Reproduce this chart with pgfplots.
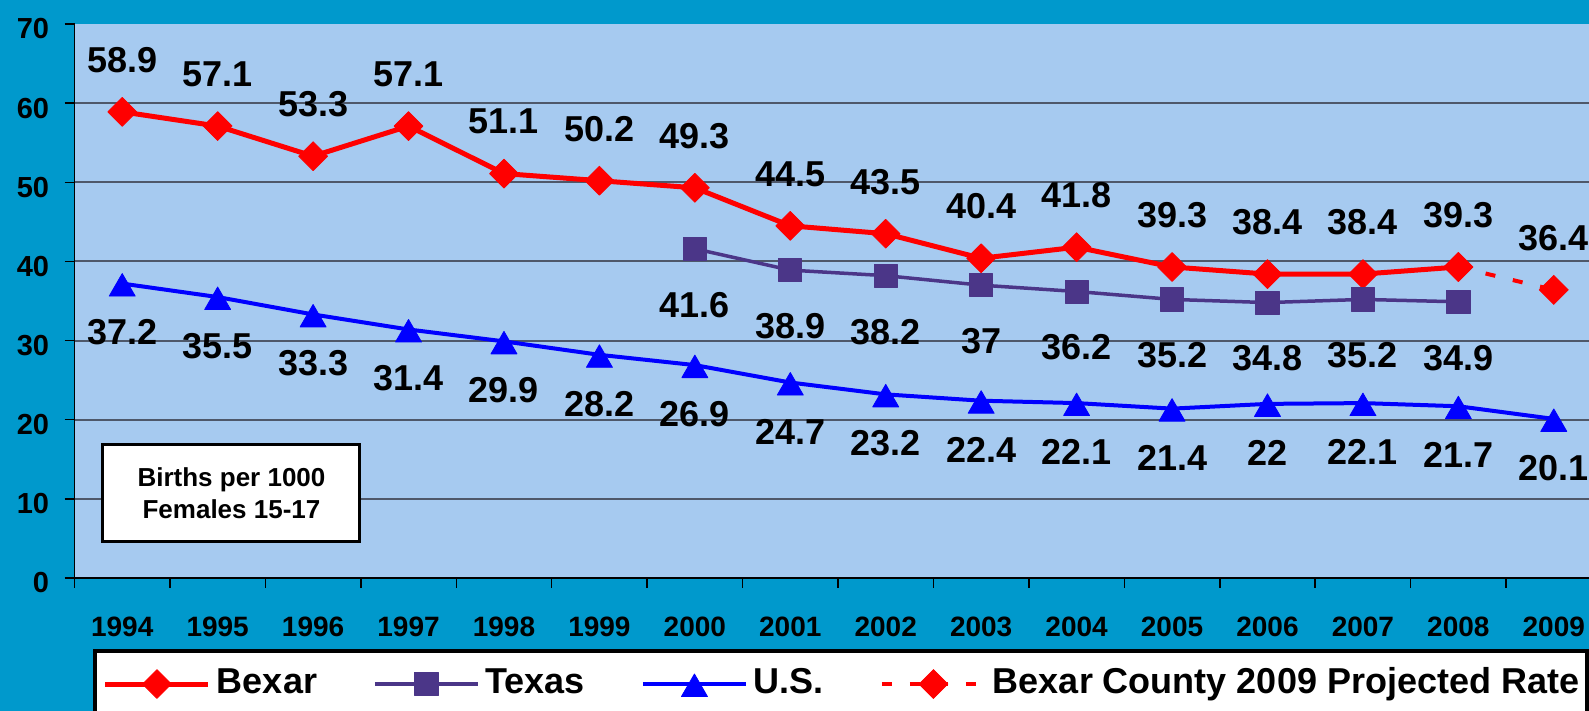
\documentclass[border=0pt]{standalone}
\usepackage{fontspec}
\setmainfont{Liberation Sans}
\usepackage{pgfplots}
\pgfplotsset{compat=1.18}
\definecolor{outerbg}{RGB}{0,153,204}
\definecolor{plotbg}{RGB}{166,202,240}
\definecolor{gridc}{RGB}{78,88,106}
\definecolor{texasc}{RGB}{75,54,136}
\begin{document}
\begin{tikzpicture}
\useasboundingbox (0,0) rectangle (794.5pt,355.5pt);
\fill[outerbg] (0,0) rectangle (794.5pt,355.5pt);
\clip (0,0) rectangle (794.5pt,355.5pt);
\begin{axis}[
  at={(37.25pt,66.5pt)}, anchor=south west,
  scale only axis, width=763.5pt, height=277pt,
  xmin=-0.5, xmax=15.5, ymin=0, ymax=70,
  axis x line*=bottom, axis y line*=left,
  axis line style={black, line width=0.75pt},
  axis background/.style={fill=plotbg},
  xtick={-0.5,0.5,...,14.5}, xticklabels={},
  extra x ticks={0,1,...,15},
  extra x tick labels={1994,1995,1996,1997,1998,1999,2000,2001,2002,2003,2004,2005,2006,2007,2008,2009},
  extra x tick style={major tick length=0pt},
  ytick={0,10,...,60}, extra y ticks={70}, extra y tick style={grid=none},
  ymajorgrids, grid style={gridc, line width=1pt},
  tick align=outside, major tick length=5pt,
  tick style={black, line width=0.75pt},
  /pgf/number format/assume math mode=true,
  xticklabel style={font=\bfseries\fontsize{14}{16}\selectfont, anchor=north, inner sep=0pt, yshift=-19.5pt},
  yticklabel style={font=\bfseries\fontsize{14.5}{16}\selectfont, anchor=east, inner sep=0pt, xshift=-7.5pt, yshift=-2.5pt},
  legend image code/.code={\draw[mark repeat=2, mark phase=2] plot coordinates {(0pt,0pt) (25.75pt,0pt) (51.5pt,0pt)};},
  legend columns=4,
  legend style={at={(0.0121,-0.1282)}, anchor=north west, draw=black, line width=2pt, fill=white,
    inner xsep=4pt, inner ysep=8pt,
    nodes={inner sep=0pt, font=\bfseries\fontsize{18}{20}\selectfont, text height=13pt, text depth=4pt},
    /tikz/every odd column/.append style={column sep=3pt},
    /tikz/every even column/.append style={column sep=28pt}},
]
\addplot[red, line width=2.5pt, line join=round, mark=square*, mark size=5.1pt,
  mark options={solid, rotate=45, line width=0.4pt},
  nodes near coords, nodes near coords style={font=\bfseries\fontsize{18}{20}\selectfont, text=black, anchor=center, yshift=26pt}]
  coordinates {(0,58.9)(1,57.1)(2,53.3)(3,57.1)(4,51.1)(5,50.2)(6,49.3)(7,44.5)(8,43.5)(9,40.4)(10,41.8)(11,39.3)(12,38.4)(13,38.4)(14,39.3)};
\addlegendentry{Bexar}
\addplot[texasc, line width=1.75pt, line join=round, mark=square*, mark size=5.8pt,
  mark options={solid, line width=0.4pt},
  nodes near coords, nodes near coords style={font=\bfseries\fontsize{18}{20}\selectfont, text=black, anchor=center, yshift=-28pt}]
  coordinates {(6,41.6)(7,38.9)(8,38.2)(9,37)(10,36.2)(11,35.2)(12,34.8)(13,35.2)(14,34.9)};
\addlegendentry{Texas}
\addplot[blue, line width=2pt, line join=round, mark=triangle*, mark size=7.5pt,
  mark options={solid, line width=0.4pt, yshift=-2.5pt},
  nodes near coords, nodes near coords style={font=\bfseries\fontsize{18}{20}\selectfont, text=black, anchor=center, yshift=-22pt}]
  coordinates {(0,37.2)(1,35.5)(2,33.3)(3,31.4)(4,29.9)(5,28.2)(6,26.9)(7,24.7)(8,23.2)(9,22.4)(10,22.1)(11,21.4)(12,22)(13,22.1)(14,21.7)(15,20.1)};
\addlegendentry{U.S.}
\addplot[red, line width=2pt, dash pattern=on 5pt off 9pt, mark=square*, mark size=5.1pt,
  mark options={solid, rotate=45, line width=0.4pt}]
  coordinates {(14,39.3)(15,36.4)};
\addlegendentry{Bexar County 2009 Projected Rate\hspace{25pt}}
\addplot[draw=none, mark=none, forget plot,
  nodes near coords, nodes near coords style={font=\bfseries\fontsize{18}{20}\selectfont, text=black, anchor=center, yshift=26pt}]
  coordinates {(15,36.4)};
\node[draw=black, line width=1.5pt, fill=white, minimum width=128.5pt, minimum height=48.5pt,
  align=center, font=\bfseries\fontsize{13}{16}\selectfont] at (axis cs:1.145,10.68) {Births per 1000\\Females 15-17};
\end{axis}
\end{tikzpicture}
\end{document}
